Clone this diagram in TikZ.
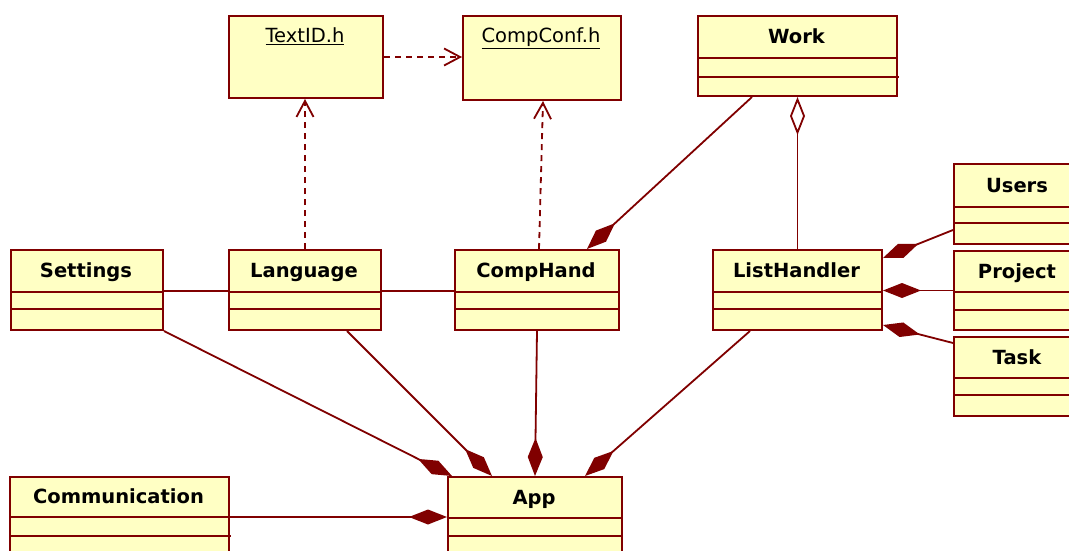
\documentclass[tikz,border=0pt]{standalone}
\usepackage{fontspec}
\setmainfont{DejaVu Sans}
\usetikzlibrary{arrows.meta,calc}
\definecolor{umlfill}{RGB}{255,255,196}
\definecolor{umlline}{RGB}{128,0,0}
\tikzset{
  cls/.style={draw=umlline, fill=umlfill, line width=2pt, inner sep=0pt, anchor=north west},
  div/.style={draw=umlline, line width=1.8pt},
  nm/.style={anchor=base, inner sep=0pt, font=\fontsize{19.5}{22}\selectfont\bfseries},
  fn/.style={anchor=base, inner sep=0pt, font=\fontsize{19.5}{22}\selectfont},
  conn/.style={draw=umlline, line width=1.8pt},
  dep/.style={conn, dash pattern=on 6pt off 5pt, -{Straight Barb[length=16pt,width=17pt]}},
  comp/.style={conn, -{Diamond[length=38pt,width=15pt]}},
  agg/.style={conn, -{Diamond[open,length=38pt,width=15pt,fill=white]}},
}
% name, x, y, w, h, divider1, divider2, text
\newcommand\umlclass[8]{%
  \node[cls, minimum width=#4pt, minimum height=#5pt] (#1) at (#2,#3) {};
  \draw[div] (#2,#6) -- ++(#4,0);
  \draw[div] (#2,#7) -- ++(#4,0);
  \node[nm] (#1-name) at ({#2+#4/2},{(#3+#6)/2+7}) {#8};
}
\begin{document}
\begin{tikzpicture}[x=1pt,y=-1pt]
\useasboundingbox (0,0) rectangle (1069,551);
\clip (0,0) rectangle (1069,551);
\fill[white] (0,0) rectangle (1069,551);

% header boxes
\node[cls, minimum width=154pt, minimum height=82pt] (textid) at (228,15) {};
\node[fn] (textid-name) at (305,43) {\underline{TextID.h}};
\node[cls, minimum width=158pt, minimum height=84pt] (compconf) at (462,15) {};
\node[fn] (compconf-name) at (541,43) {\underline{CompConf.h}};

\umlclass{work}{697}{15}{199}{80}{58}{77}{Work}
\draw[div] (880,77) -- (899,77);

\umlclass{users}{953}{163}{128}{80}{207}{223}{Users}
\umlclass{project}{953}{250}{128}{79}{292}{310}{Project}
\umlclass{task}{953}{336}{128}{79}{378}{395}{Task}

\umlclass{settings}{10}{249}{152}{80}{292}{309}{Settings}
\umlclass{language}{228}{249}{152}{80}{292}{309}{Language}
\umlclass{comphand}{454}{249}{164}{80}{292}{309}{CompHand}
\umlclass{listhandler}{712}{249}{169}{80}{292}{309}{ListHandler}

\umlclass{communication}{9}{476}{219}{90}{517}{536}{Communication}
\draw[div] (220,536) -- (231,536);
\umlclass{app}{447}{476}{174}{90}{518}{536}{App}

% dependencies
\draw[dep] (textid.east) -- (textid.east -| compconf.west);
\draw[dep] (language.north) -- (language.north |- textid.south);
\draw[dep] ($(comphand.north)+(2,0)$) -- ($(compconf.south)+(1,0)$);

% associations
\draw[conn] ($(settings.north east)+(0,42)$) -- ($(language.north west)+(0,42)$);
\draw[conn] ($(language.north east)+(0,42)$) -- ($(comphand.north west)+(0,42)$);

% compositions / aggregation
\draw[comp] ($(work.south west)+(55,0)$) -- ($(comphand.north east)+(-33,0)$);
\draw[agg] (listhandler.north) -- (work.south);
\draw[comp] ($(users.north west)+(0,67)$) -- ($(listhandler.north east)+(0,9)$);
\draw[comp] (project.west) -- (project.west -| listhandler.east);
\draw[comp] ($(task.north west)+(0,7)$) -- ($(listhandler.south east)+(0,-6)$);

\draw[comp] (settings.south east) -- ($(app.north west)+(5,0)$);
\draw[comp] ($(language.south west)+(119,0)$) -- ($(app.north west)+(45,0)$);
\draw[comp] (comphand.south) -- (app.north);
\draw[comp] ($(listhandler.south west)+(38,0)$) -- ($(app.north west)+(138,0)$);
\draw[comp] ($(communication.north east)+(0,41)$) -- ($(app.north west)+(0,41)$);
\end{tikzpicture}
\end{document}
